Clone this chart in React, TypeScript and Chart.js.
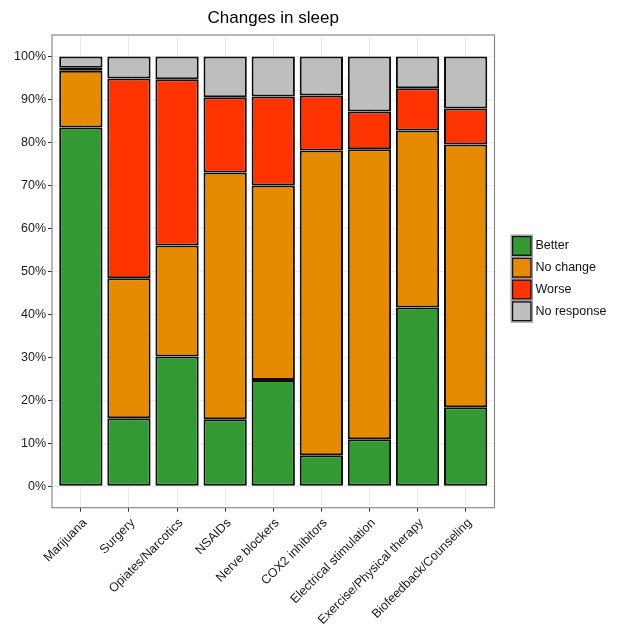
import { useEffect, useRef } from "react";
import { Chart, registerables } from "chart.js";
Chart.register(...registerables);

const categories = [
  "Marijuana",
  "Surgery",
  "Opiates/Narcotics",
  "NSAIDs",
  "Nerve blockers",
  "COX2 inhibitors",
  "Electrical stimulation",
  "Exercise/Physical therapy",
  "Biofeedback/Counseling",
];
const better = [83.5, 15.8, 30.2, 15.6, 24.7, 7.2, 10.9, 41.6, 18.4];
const noChange = [13.2, 32.6, 25.8, 57.4, 45.3, 70.9, 67.5, 41.2, 61.1];
const worse = [0.7, 46.5, 38.7, 17.5, 20.7, 12.8, 8.8, 9.8, 8.4];
const noResponse = [2.6, 5.1, 5.3, 9.5, 9.3, 9.1, 12.8, 7.4, 12.1];
const seriesNames = ["Better", "No change", "Worse", "No response"];
const seriesColors = ["#339933", "#E68A00", "#FF3300", "#BEBEBE"];
const yTicks = [0, 5, 10, 15, 20, 25, 30, 35, 40, 45, 50, 55, 60, 65, 70, 75, 80, 85, 90, 95, 100];
const titleText = "Changes in sleep";

const FONT = "'Liberation Sans', Arial, Helvetica, sans-serif";

export default function App() {
  const ref = useRef<HTMLCanvasElement | null>(null);
  useEffect(() => {
    document.body.style.margin = "0";
    const series = [better, noChange, worse, noResponse];
    const datasets = series.map((vals, si) => ({
      label: seriesNames[si],
      data: vals.map((v, i) => ({ x: i, y: v })),
      backgroundColor: seriesColors[si],
      borderColor: "#0d0d0d",
      borderWidth: 2,
      borderSkipped: false as const,
      categoryPercentage: 1,
      barPercentage: 0.9,
    }));

    const decor = {
      id: "decor",
      afterDraw(chart: any) {
        const { ctx, chartArea } = chart;
        const { left, right, top, bottom } = chartArea;
        ctx.save();
        // panel border
        ctx.strokeStyle = "#8a8a8a";
        ctx.lineWidth = 1.2;
        ctx.strokeRect(left, top, right - left, bottom - top);
        // title
        ctx.fillStyle = "#000";
        ctx.font = `17px ${FONT}`;
        ctx.textAlign = "center";
        ctx.textBaseline = "middle";
        ctx.fillText(titleText, (left + right) / 2, 18);
        // legend
        const lx = 511;
        let ly = 235;
        const bw = 21.5;
        const bh = 21.8;
        ctx.font = `12.5px ${FONT}`;
        ctx.textAlign = "left";
        chart.data.datasets.forEach((ds: any) => {
          ctx.fillStyle = "#f2f2f2";
          ctx.fillRect(lx, ly, bw, bh);
          ctx.strokeStyle = "#999";
          ctx.lineWidth = 1;
          ctx.strokeRect(lx, ly, bw, bh);
          ctx.fillStyle = ds.backgroundColor;
          ctx.fillRect(lx + 1.5, ly + 1.5, bw - 3, bh - 3);
          ctx.strokeStyle = "#111";
          ctx.lineWidth = 1.4;
          ctx.strokeRect(lx + 1.5, ly + 1.5, bw - 3, bh - 3);
          ctx.fillStyle = "#111";
          ctx.fillText(ds.label, lx + bw + 3, ly + bh / 2);
          ly += bh;
        });
        ctx.restore();
      },
    };

    const chart = new Chart(ref.current as HTMLCanvasElement, {
      type: "bar",
      data: { datasets: datasets as any },
      options: {
        animation: false,
        responsive: true,
        maintainAspectRatio: false,
        layout: { padding: { top: 35, right: 130.5, bottom: 0, left: 0 } },
        plugins: {
          legend: { display: false },
          title: { display: false },
          tooltip: { enabled: false },
        },
        scales: {
          x: {
            type: "linear",
            stacked: true,
            offset: false,
            min: -0.6,
            max: 8.6,
            afterBuildTicks: (scale: any) => {
              scale.ticks = categories.map((_, i) => ({ value: i }));
            },
            afterFit: (scale: any) => {
              scale.height = 118.3;
            },
            border: { display: false },
            grid: {
              offset: false,
              color: "#ebebeb",
              lineWidth: 1,
              tickColor: "#333",
              tickLength: 4,
            },
            ticks: {
              autoSkip: false,
              minRotation: 45,
              maxRotation: 45,
              padding: 4,
              labelOffset: 4,
              color: "#1a1a1a",
              font: { family: FONT, size: 12.5 },
              callback: (v: any) => categories[v as number] ?? "",
            },
          },
          y: {
            type: "linear",
            stacked: true,
            min: -5,
            max: 105,
            afterBuildTicks: (scale: any) => {
              scale.ticks = yTicks.map((v) => ({ value: v }));
            },
            afterFit: (scale: any) => {
              scale.width = 52;
            },
            border: { display: false },
            grid: {
              color: (c: any) => (c.tick && c.tick.value % 10 === 0 ? "#ebebeb" : "#f4f4f4"),
              lineWidth: (c: any) => (c.tick && c.tick.value % 10 === 0 ? 1 : 0.6),
              tickColor: (c: any) => (c.tick && c.tick.value % 10 === 0 ? "#333" : "rgba(0,0,0,0)"),
              tickLength: 4,
            },
            ticks: {
              autoSkip: false,
              padding: 2,
              color: "#1a1a1a",
              font: { family: FONT, size: 12.5 },
              callback: (v: any) => ((v as number) % 10 === 0 ? `${v}%` : ""),
            },
          },
        },
      },
      plugins: [decor],
    });
    return () => chart.destroy();
  }, []);

  return (
    <div style={{ position: "relative", width: 625, height: 626 }}>
      <canvas ref={ref} />
    </div>
  );
}
